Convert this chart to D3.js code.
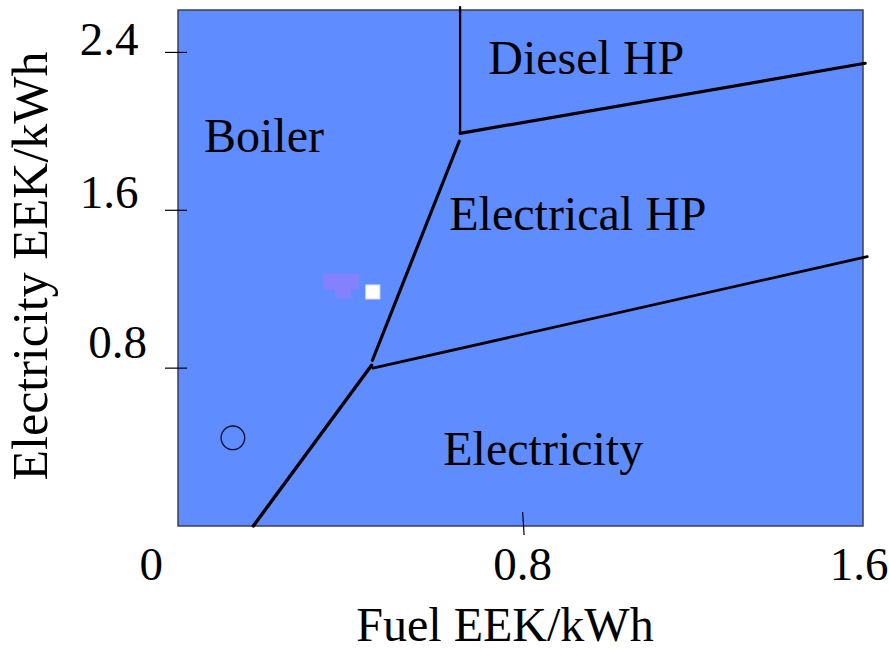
<!DOCTYPE html>
<html>
<head>
<meta charset="utf-8">
<script src="https://cdn.jsdelivr.net/npm/d3@7"></script>
<style>
  html, body { margin: 0; padding: 0; background: #ffffff; }
  svg { display: block; }
  text { font-family: "Liberation Serif", "Times New Roman", serif; fill: #000; }
</style>
</head>
<body>
<svg id="chart" width="889" height="650"></svg>
<script>
// Axis ticks (EEK/kWh)
const xTicks = [0, 0.8, 1.6];
const yTicks = [0.8, 1.6, 2.4];

// Region names of the cheapest heating option
const regionNames = ["Boiler", "Diesel HP", "Electrical HP", "Electricity"];

// Boundaries between regions: [fuel price, electricity price] end points
const boilerElectricity     = [[0.167, 0.000], [0.445, 0.815]];
const boilerElectricalHP    = [[0.447, 0.840], [0.651, 1.950]];
const electricalHPElectric  = [[0.448, 0.800], [1.610, 1.365]];
const boilerDieselHP        = [[0.653, 1.990], [0.653, 2.630]];
const dieselElectricalHP    = [[0.653, 1.990], [1.605, 2.345]];

// Observed price points
const circleX = [0.119];
const circleY = [0.447];
const purpleX = [0.350, 0.374, 0.397, 0.377];
const purpleY = [1.238, 1.238, 1.238, 1.194];
const whiteX  = [0.448];
const whiteY  = [1.186];

const svg = d3.select("#chart");

const plot = { left: 178, top: 10, right: 863, bottom: 526 };

const x = d3.scaleLinear().domain([-0.01, 1.6]).range([plot.left, plot.right]);
const y = d3.scaleLinear().domain([0, 2.615]).range([plot.bottom, plot.top]);

// Plot background
svg.append("rect")
  .attr("x", plot.left).attr("y", plot.top)
  .attr("width", plot.right - plot.left)
  .attr("height", plot.bottom - plot.top)
  .attr("fill", "#5f8cff")
  .attr("stroke", "#3a3f55")
  .attr("stroke-width", 1.5);

// Y ticks and labels
const yLabelDx = { "0.8": 7, "1.6": -1.5, "2.4": -1.5 };
const yLabelDy = { "0.8": -9.8, "1.6": -2.3, "2.4": 2.6 };
svg.append("g").selectAll("line").data(yTicks).join("line")
  .attr("x1", plot.left - 13).attr("x2", plot.left + 9)
  .attr("y1", d => y(d)).attr("y2", d => y(d))
  .attr("stroke", "#000").attr("stroke-width", 1.2);
svg.append("g").selectAll("text").data(yTicks).join("text")
  .attr("x", d => 140 + yLabelDx[d.toFixed(1)])
  .attr("y", d => y(d) + yLabelDy[d.toFixed(1)])
  .attr("text-anchor", "end")
  .attr("font-size", 47)
  .text(d => d.toFixed(1));

// X ticks (inner only; ends coincide with the frame) and labels
svg.append("g").selectAll("line").data(xTicks.filter(d => d > 0 && d < 1.6)).join("line")
  .attr("x1", d => x(d)).attr("x2", d => x(d) + 1.5)
  .attr("y1", plot.bottom - 14).attr("y2", plot.bottom + 9)
  .attr("stroke", "#000").attr("stroke-width", 1.2);
const xLabelDx = { "0": -31, "0.8": 0, "1.6": -4 };
svg.append("g").selectAll("text").data(xTicks).join("text")
  .attr("x", d => x(d) + xLabelDx[d === 0 ? "0" : d.toFixed(1)])
  .attr("y", 580)
  .attr("text-anchor", "middle")
  .attr("font-size", 47)
  .text(d => d === 0 ? "0" : d.toFixed(1));

// Axis titles
svg.append("text")
  .attr("x", 505).attr("y", 641)
  .attr("text-anchor", "middle")
  .attr("font-size", 48)
  .text("Fuel EEK/kWh");
svg.append("text")
  .attr("transform", "translate(46.5,266) rotate(-90)")
  .attr("text-anchor", "middle")
  .attr("font-size", 50)
  .text("Electricity EEK/kWh");

// Region boundaries
const line = d3.line().x(d => x(d[0])).y(d => y(d[1]));
const boundaries = [
  { pts: boilerElectricity, w: 3.4 },
  { pts: boilerElectricalHP, w: 3.2 },
  { pts: electricalHPElectric, w: 2.8 },
  { pts: boilerDieselHP, w: 2.3 },
  { pts: dieselElectricalHP, w: 3.2 }
];
svg.append("g").selectAll("path").data(boundaries).join("path")
  .attr("d", d => line(d.pts))
  .attr("fill", "none")
  .attr("stroke", "#000")
  .attr("stroke-width", d => d.w)
  .attr("stroke-linecap", "round");

// Region labels
const labelPos = [[204, 151.7], [488.3, 74], [449.3, 230], [443.3, 465]];
svg.append("g").selectAll("text").data(regionNames).join("text")
  .attr("x", (d, i) => labelPos[i][0])
  .attr("y", (d, i) => labelPos[i][1])
  .attr("font-size", 48)
  .text(d => d);

// Price points
svg.append("g").selectAll("circle").data(circleX).join("circle")
  .attr("cx", d => x(d)).attr("cy", (d, i) => y(circleY[i]))
  .attr("r", 11.8)
  .attr("fill", "none")
  .attr("stroke", "#0a1030")
  .attr("stroke-width", 1.4);

const purpleSize = 16;
svg.append("g").selectAll("rect").data(purpleX).join("rect")
  .attr("x", d => x(d) - purpleSize / 2)
  .attr("y", (d, i) => y(purpleY[i]) - purpleSize / 2)
  .attr("width", purpleSize).attr("height", purpleSize)
  .attr("fill", "#8481ff");

const whiteSize = 14;
svg.append("g").selectAll("rect").data(whiteX).join("rect")
  .attr("x", d => x(d) - whiteSize / 2)
  .attr("y", (d, i) => y(whiteY[i]) - whiteSize / 2)
  .attr("width", whiteSize).attr("height", whiteSize)
  .attr("fill", "#ffffff")
  .attr("stroke", "#d8e2ff")
  .attr("stroke-width", 1);
</script>
</body>
</html>
